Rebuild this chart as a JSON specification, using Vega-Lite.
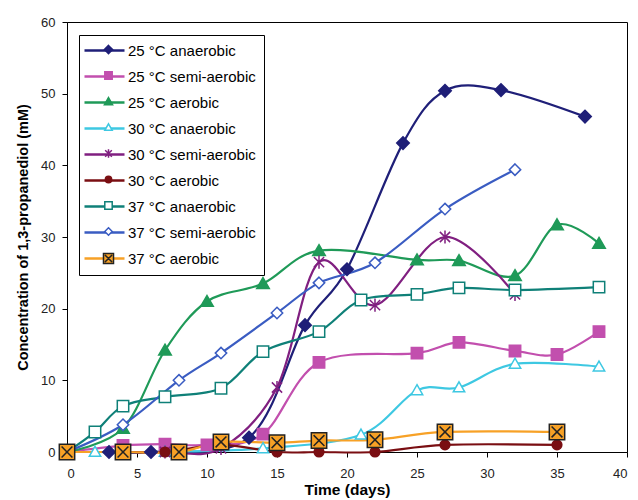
{
  "$schema": "https://vega.github.io/schema/vega-lite/v6.json",
  "autosize": {"type": "none"},
  "padding": {"left": 67, "top": 22, "right": 11, "bottom": 48},
  "width": 560,
  "height": 430,
  "background": "white",
  "config": {
    "view": {"stroke": "black", "strokeWidth": 1},
    "font": "Liberation Sans",
    "axis": {"grid": false, "domainColor": "black", "tickColor": "black", "labelColor": "#222", "labelFontSize": 13, "titleFontSize": 15.5, "titleFontWeight": "bold", "titleColor": "black", "tickSize": 5}
  },
  "data": {"values": [
    {"s": "25 °C anaerobic", "t": 0, "c": 0}, {"s": "25 °C anaerobic", "t": 3, "c": 0}, {"s": "25 °C anaerobic", "t": 6, "c": 0}, {"s": "25 °C anaerobic", "t": 13, "c": 2}, {"s": "25 °C anaerobic", "t": 17, "c": 17.7}, {"s": "25 °C anaerobic", "t": 20, "c": 25.5}, {"s": "25 °C anaerobic", "t": 24, "c": 43.1}, {"s": "25 °C anaerobic", "t": 27, "c": 50.4}, {"s": "25 °C anaerobic", "t": 31, "c": 50.5}, {"s": "25 °C anaerobic", "t": 37, "c": 46.8},
    {"s": "25 °C semi-aerobic", "t": 0, "c": 0}, {"s": "25 °C semi-aerobic", "t": 4, "c": 0.9}, {"s": "25 °C semi-aerobic", "t": 7, "c": 1.1}, {"s": "25 °C semi-aerobic", "t": 10, "c": 1}, {"s": "25 °C semi-aerobic", "t": 14, "c": 2.5}, {"s": "25 °C semi-aerobic", "t": 18, "c": 12.5}, {"s": "25 °C semi-aerobic", "t": 25, "c": 13.8}, {"s": "25 °C semi-aerobic", "t": 28, "c": 15.3}, {"s": "25 °C semi-aerobic", "t": 32, "c": 14.1}, {"s": "25 °C semi-aerobic", "t": 35, "c": 13.6}, {"s": "25 °C semi-aerobic", "t": 38, "c": 16.8},
    {"s": "25 °C aerobic", "t": 0, "c": 0}, {"s": "25 °C aerobic", "t": 4, "c": 3.3}, {"s": "25 °C aerobic", "t": 7, "c": 14.2}, {"s": "25 °C aerobic", "t": 10, "c": 21}, {"s": "25 °C aerobic", "t": 14, "c": 23.5}, {"s": "25 °C aerobic", "t": 18, "c": 28.1}, {"s": "25 °C aerobic", "t": 25, "c": 26.8}, {"s": "25 °C aerobic", "t": 28, "c": 26.7}, {"s": "25 °C aerobic", "t": 32, "c": 24.6}, {"s": "25 °C aerobic", "t": 35, "c": 31.7}, {"s": "25 °C aerobic", "t": 38, "c": 29.1},
    {"s": "30 °C anaerobic", "t": 0, "c": 0}, {"s": "30 °C anaerobic", "t": 2, "c": 0}, {"s": "30 °C anaerobic", "t": 7, "c": 0}, {"s": "30 °C anaerobic", "t": 14, "c": 0.5}, {"s": "30 °C anaerobic", "t": 21, "c": 2.4}, {"s": "30 °C anaerobic", "t": 25, "c": 8.6}, {"s": "30 °C anaerobic", "t": 28, "c": 9}, {"s": "30 °C anaerobic", "t": 32, "c": 12.3}, {"s": "30 °C anaerobic", "t": 38, "c": 11.9},
    {"s": "30 °C semi-aerobic", "t": 0, "c": 0}, {"s": "30 °C semi-aerobic", "t": 4, "c": 0}, {"s": "30 °C semi-aerobic", "t": 7, "c": 0}, {"s": "30 °C semi-aerobic", "t": 11, "c": 0.5}, {"s": "30 °C semi-aerobic", "t": 15, "c": 9}, {"s": "30 °C semi-aerobic", "t": 18, "c": 26.5}, {"s": "30 °C semi-aerobic", "t": 22, "c": 20.5}, {"s": "30 °C semi-aerobic", "t": 27, "c": 30}, {"s": "30 °C semi-aerobic", "t": 32, "c": 22},
    {"s": "30 °C aerobic", "t": 0, "c": 0}, {"s": "30 °C aerobic", "t": 4, "c": 0}, {"s": "30 °C aerobic", "t": 7, "c": 0}, {"s": "30 °C aerobic", "t": 11, "c": 1}, {"s": "30 °C aerobic", "t": 15, "c": 0}, {"s": "30 °C aerobic", "t": 18, "c": 0}, {"s": "30 °C aerobic", "t": 22, "c": 0}, {"s": "30 °C aerobic", "t": 27, "c": 1}, {"s": "30 °C aerobic", "t": 35, "c": 1},
    {"s": "37 °C anaerobic", "t": 0, "c": 0}, {"s": "37 °C anaerobic", "t": 2, "c": 2.8}, {"s": "37 °C anaerobic", "t": 4, "c": 6.4}, {"s": "37 °C anaerobic", "t": 7, "c": 7.7}, {"s": "37 °C anaerobic", "t": 11, "c": 8.9}, {"s": "37 °C anaerobic", "t": 14, "c": 14}, {"s": "37 °C anaerobic", "t": 18, "c": 16.8}, {"s": "37 °C anaerobic", "t": 21, "c": 21.2}, {"s": "37 °C anaerobic", "t": 25, "c": 22}, {"s": "37 °C anaerobic", "t": 28, "c": 22.9}, {"s": "37 °C anaerobic", "t": 32, "c": 22.6}, {"s": "37 °C anaerobic", "t": 38, "c": 23},
    {"s": "37 °C semi-aerobic", "t": 0, "c": 0}, {"s": "37 °C semi-aerobic", "t": 4, "c": 3.8}, {"s": "37 °C semi-aerobic", "t": 8, "c": 10}, {"s": "37 °C semi-aerobic", "t": 11, "c": 13.8}, {"s": "37 °C semi-aerobic", "t": 15, "c": 19.4}, {"s": "37 °C semi-aerobic", "t": 18, "c": 23.6}, {"s": "37 °C semi-aerobic", "t": 22, "c": 26.4}, {"s": "37 °C semi-aerobic", "t": 27, "c": 33.9}, {"s": "37 °C semi-aerobic", "t": 32, "c": 39.4},
    {"s": "37 °C aerobic", "t": 0, "c": 0}, {"s": "37 °C aerobic", "t": 4, "c": 0}, {"s": "37 °C aerobic", "t": 8, "c": 0}, {"s": "37 °C aerobic", "t": 11, "c": 1.4}, {"s": "37 °C aerobic", "t": 15, "c": 1.3}, {"s": "37 °C aerobic", "t": 18, "c": 1.6}, {"s": "37 °C aerobic", "t": 22, "c": 1.7}, {"s": "37 °C aerobic", "t": 27, "c": 2.8}, {"s": "37 °C aerobic", "t": 35, "c": 2.8}
  ]},
  "encoding": {
    "x": {"field": "t", "type": "quantitative", "scale": {"domain": [0, 40], "nice": false}, "axis": {"values": [0, 5, 10, 15, 20, 25, 30, 35, 40], "title": "Time (days)", "titlePadding": 2, "labelPadding": 10}},
    "y": {"field": "c", "type": "quantitative", "scale": {"domain": [0, 60], "nice": false}, "axis": {"values": [0, 10, 20, 30, 40, 50, 60], "title": "Concentration of 1,3-propanediol (mM)", "titleFontSize": 14.5, "titlePadding": 10, "labelPadding": 7}}
  },
  "layer": [
    {
      "mark": {"type": "line", "interpolate": "cardinal", "strokeWidth": 2.2},
      "encoding": {
        "color": {"field": "s", "type": "nominal",
          "scale": {"domain": ["25 °C anaerobic", "25 °C semi-aerobic", "25 °C aerobic", "30 °C anaerobic", "30 °C semi-aerobic", "30 °C aerobic", "37 °C anaerobic", "37 °C semi-aerobic", "37 °C aerobic"],
                    "range": ["#1f1f78", "#c24fae", "#1f9a58", "#3ec8e2", "#801f80", "#7a0e12", "#0f8078", "#3a5cc2", "#f7a126"]},
          "legend": {"title": null, "orient": "none", "legendX": 12, "legendY": 13, "strokeColor": "black", "fillColor": "white", "padding": 8,
            "symbolType": "M-10,0H10", "symbolSize": 16, "symbolStrokeWidth": 2.5, "symbolOffset": 10, "labelOffset": 16,
            "labelFontSize": 15, "labelColor": "black", "rowPadding": 10, "labelLimit": 300}
        }
      }
    },
    {
      "mark": {"type": "point", "filled": false, "size": 130, "strokeWidth": 1.5, "opacity": 1},
      "encoding": {
        "shape": {"field": "s", "type": "nominal",
          "scale": {"domain": ["25 °C anaerobic", "25 °C semi-aerobic", "25 °C aerobic", "30 °C anaerobic", "30 °C semi-aerobic", "30 °C aerobic", "37 °C anaerobic", "37 °C semi-aerobic", "37 °C aerobic"],
                    "range": ["M0,-1.1L1.1,0L0,1.1L-1.1,0Z", "M-1,-1H1V1H-1Z", "M0,-1.05L1.1,0.85H-1.1Z", "M0,-1L1,0.75H-1Z", "M-0.9,-0.9L0.9,0.9M0.9,-0.9L-0.9,0.9M0,-1.15V1.15", "M-0.85,0A0.85,0.85,0,1,0,0.85,0A0.85,0.85,0,1,0,-0.85,0Z", "M-1,-1H1V1H-1Z", "M0,-1L1,0L0,1L-1,0Z", "M-1.35,-1.35H1.35V1.35H-1.35ZM-0.95,-0.95L0.95,0.95M0.95,-0.95L-0.95,0.95"]},
          "legend": {"title": null, "orient": "top-left", "offset": 12, "padding": 8, "symbolSize": 55, "symbolOffset": 14, "labelOffset": 18, "labelFontSize": 15, "labelExpr": "''", "rowPadding": 10, "labelLimit": 300}
        },
        "stroke": {"field": "s", "type": "nominal",
          "scale": {"domain": ["25 °C anaerobic", "25 °C semi-aerobic", "25 °C aerobic", "30 °C anaerobic", "30 °C semi-aerobic", "30 °C aerobic", "37 °C anaerobic", "37 °C semi-aerobic", "37 °C aerobic"],
                    "range": ["#1f1f78", "#c24fae", "#1f9a58", "#3ec8e2", "#801f80", "#7a0e12", "#0f8078", "#3a5cc2", "#222222"]}
        },
        "fill": {"field": "s", "type": "nominal",
          "scale": {"domain": ["25 °C anaerobic", "25 °C semi-aerobic", "25 °C aerobic", "30 °C anaerobic", "30 °C semi-aerobic", "30 °C aerobic", "37 °C anaerobic", "37 °C semi-aerobic", "37 °C aerobic"],
                    "range": ["#1f1f78", "#c24fae", "#1f9a58", "white", "transparent", "#7a0e12", "white", "white", "#f7a126"]}
        }
      }
    }
  ]
}
